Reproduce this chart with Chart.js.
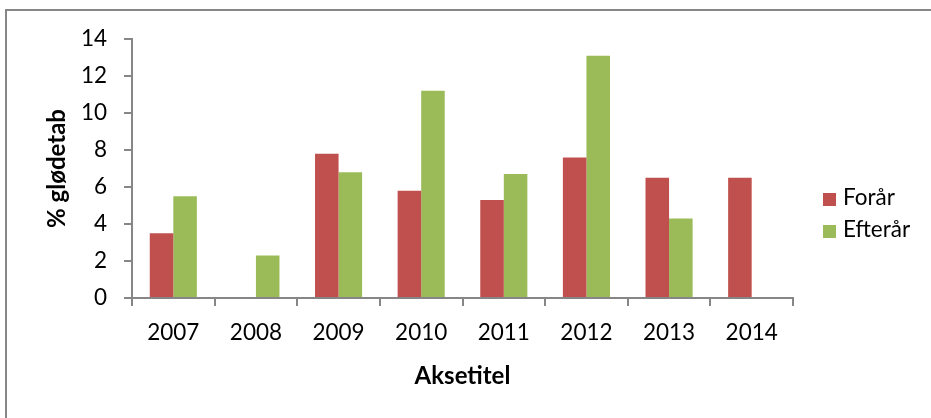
<!doctype html>
<html>
<head>
<meta charset="utf-8">
<style>
  body { margin:0; background:#fff; font-family: Lato, "Open Sans", sans-serif; }
  #wrap { position:relative; width:931px; height:418px; overflow:hidden; }
  #frame { position:absolute; left:5px; top:9px; right:-10px; bottom:-10px; border-left:2px solid #878787; border-top:2px solid #878787; }
  #chart { position:absolute; left:0; top:0; }
  .leg { position:absolute; left:823px; font-size:22.5px; color:#000; line-height:26px; height:26px; }
  .leg i { display:inline-block; width:13px; height:13px; margin-right:7px; vertical-align:-1px; }
</style>
</head>
<body>
<div id="wrap">
  <div id="frame"></div>
  <canvas id="chart" width="931" height="418"></canvas>
</div>
<script src="https://cdn.jsdelivr.net/npm/chart.js@4/dist/chart.umd.min.js"></script>
<script>
const years = ['2007', '2008', '2009', '2010', '2011', '2012', '2013', '2014'];
const foraar = [3.5, null, 7.8, 5.8, 5.3, 7.6, 6.5, 6.5];
const efteraar = [5.5, 2.3, 6.8, 11.2, 6.7, 13.1, 4.3, null];
const seriesNames = ['Forår', 'Efterår'];
const seriesColors = ['#C0504D', '#9BBB59'];

const axisGray = '#868686';
const tickFont = { family: 'Lato', size: 22.5 };
const titleFont = { family: 'Lato', size: 24, weight: 'bold' };

const chart = new Chart(document.getElementById('chart'), {
  type: 'bar',
  data: {
    labels: years,
    datasets: [foraar, efteraar].map((vals, i) => ({
      label: seriesNames[i],
      data: vals,
      backgroundColor: seriesColors[i],
      borderWidth: 0,
      categoryPercentage: 0.57,
      barPercentage: 1
    }))
  },
  options: {
    responsive: false,
    animation: false,
    layout: { padding: { left: 0, top: 39, right: 138, bottom: 0 } },
    plugins: { legend: { display: false }, tooltip: { enabled: false } },
    scales: {
      x: {
        grid: { drawOnChartArea: false, drawTicks: true, tickLength: 8, color: axisGray, lineWidth: 2, offset: true },
        border: { color: axisGray, width: 2 },
        ticks: { color: '#000', font: tickFont, padding: 13 },
        title: { display: true, text: 'Aksetitel', color: '#000', font: titleFont, padding: { top: 0, bottom: 27 } },
        afterFit: s => { s.height = 120; }
      },
      y: {
        min: 0, max: 14,
        ticks: { stepSize: 2, color: '#000', font: tickFont, padding: 17 },
        grid: { drawOnChartArea: false, drawTicks: true, tickLength: 8, color: axisGray, lineWidth: 2 },
        border: { color: axisGray, width: 2 },
        title: { display: true, text: '% glødetab', color: '#000', font: titleFont, padding: { top: 43, bottom: 0 } },
        afterFit: s => { s.width = 132; }
      }
    }
  }
});

// legend on the right, one row per series
seriesNames.forEach((name, i) => {
  const row = document.createElement('div');
  row.className = 'leg';
  row.style.top = (184 + i * 32) + 'px';
  row.innerHTML = '<i style="background:' + seriesColors[i] + '"></i>' + name;
  document.getElementById('wrap').appendChild(row);
});
</script>
</body>
</html>
